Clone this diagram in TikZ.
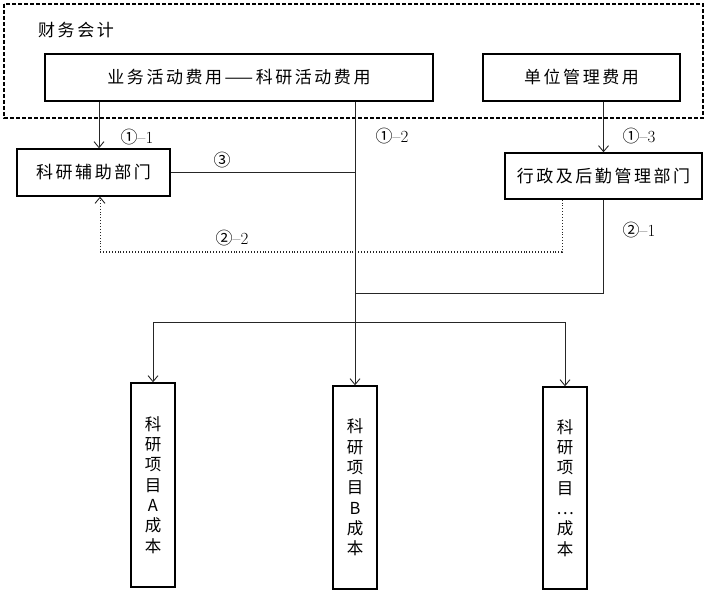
\documentclass[tikz,border=0pt]{standalone}
\usepackage{fontspec}
\newfontfamily\cjk{Noto Sans CJK SC}
\newfontfamily\cjksp[LetterSpace=15]{Noto Sans CJK SC}
\usetikzlibrary{arrows.meta}
\newcommand{\circnum}[1]{{\cjk #1}}
\begin{document}
\begin{tikzpicture}[x=1pt,y=-1pt,
  box/.style={draw=black,line width=1.4pt,inner sep=0pt,font=\cjksp\fontsize{17}{19}\selectfont},
  vbox/.style={draw=black,line width=1.4pt,inner sep=0pt,minimum width=44pt,align=center,font=\cjk\fontsize{16.5}{20.3}\selectfont},
  conn/.style={draw=black!85,line width=0.9pt},
  arr/.style={conn,-{Straight Barb[length=6pt,width=10pt,line width=0.9pt]}},
  lbl/.style={font=\fontsize{17}{19}\selectfont,inner sep=0pt}]
\useasboundingbox (0,0) rectangle (708,593);
% outer dashed frame
\draw[dashed,line width=1.1pt,dash pattern=on 4pt off 2pt] (4,4) rectangle (703,118);
\node[font=\cjksp\fontsize{17}{19}\selectfont,anchor=west,inner sep=0pt] (cw) at (38,30) {财务会计};
% boxes
\node[box,minimum width=388pt,minimum height=47pt] (ywf) at (239,77.5) {业务活动费用——科研活动费用};
\node[box,minimum width=197pt,minimum height=47pt] (dwg) at (581.5,77.5) {单位管理费用};
\node[box,minimum width=153pt,minimum height=47pt] (kyfz) at (93.5,172.5) {科研辅助部门};
\node[box,minimum width=197pt,minimum height=46pt] (xz) at (603.5,176) {行政及后勤管理部门};
\node[vbox,minimum height=204pt] (A) at (153,485) {科\\研\\项\\目\\A\\成\\本};
\node[vbox,minimum height=203pt] (B) at (355,487.5) {科\\研\\项\\目\\B\\成\\本};
\node[vbox,minimum height=202pt] (C) at (565,488) {科\\研\\项\\目\\…\\成\\本};
% helper coordinates
\coordinate (p1) at (99,0);
\coordinate (p2) at (100,0);
\coordinate (m) at (355,0);
\coordinate (d) at (562,252);
\coordinate (j) at (355,293);
\coordinate (r) at (355,322);
% connectors
\draw[arr] (ywf.south -| p1) -- (kyfz.north -| p1);
\draw[arr] (ywf.south -| m) -- (B.north);
\draw[conn] (kyfz.east) -- (kyfz.east -| m);
\draw[arr] (dwg.south -| xz.north) -- (xz.north);
\draw[arr,dotted,line width=1pt] (xz.south -| d) -- (d) -| (kyfz.south -| p2);
\draw[conn] (xz.south) -- (xz.south |- j) -- (j);
\draw[arr] (r) -| (A.north);
\draw[arr] (r) -| (C.north);
% labels
\node[lbl] (l11) at (137,137) {\circnum{①}--1};
\node[lbl] (l12) at (392,136) {\circnum{①}--2};
\node[lbl] (l13) at (639,136) {\circnum{①}--3};
\node[lbl] (l3) at (222,160) {\circnum{③}};
\node[lbl] (l22) at (232,238) {\circnum{②}--2};
\node[lbl] (l21) at (639,230) {\circnum{②}--1};
\end{tikzpicture}
\end{document}
